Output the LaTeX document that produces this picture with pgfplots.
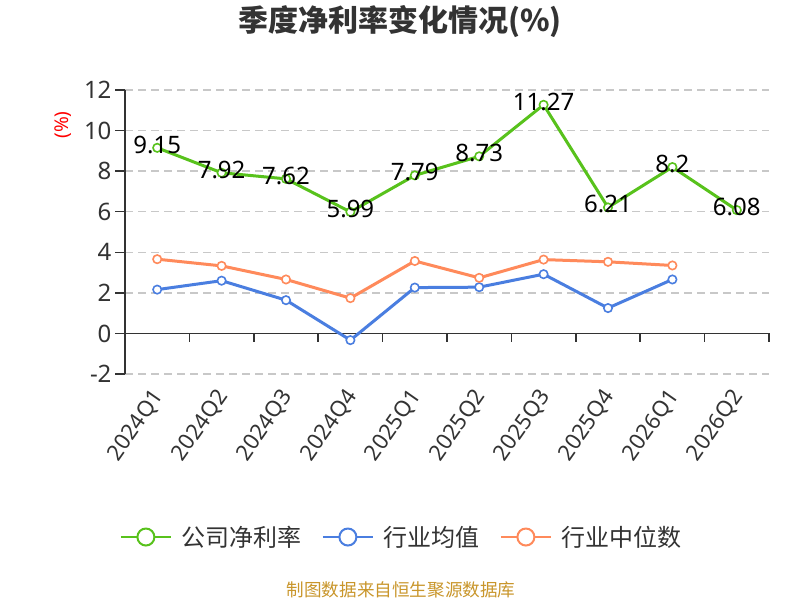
\documentclass[border=0pt]{standalone}
\usepackage{fontspec}
\setmainfont{Noto Sans}
\newfontfamily\cjk{Noto Sans CJK SC}
\usepackage{pgfplots}
\pgfplotsset{compat=1.18}
\definecolor{cgreen}{HTML}{58C21C}
\definecolor{cblue}{HTML}{4A7EE0}
\definecolor{corange}{HTML}{FF8A5B}
\definecolor{c333}{HTML}{333333}
\definecolor{cgrid}{HTML}{C8C8C8}
\definecolor{cfoot}{HTML}{C9962B}
\begin{document}
\begin{tikzpicture}
\useasboundingbox (0pt,0pt) rectangle (800pt,600pt);
\fill[white] (0pt,0pt) rectangle (800pt,600pt);
\node[font=\cjk\bfseries\fontsize{30}{32}\selectfont, text=c333] at (400pt,578pt) {季度净利率变化情况(\%)};
\node[font=\cjk\fontsize{17.6}{20}\selectfont, text=cfoot] at (401pt,10pt) {制图数据来自恒生聚源数据库};
\node[rotate=90, text=red, font=\fontsize{19}{21}\selectfont] at (63pt,475pt) {(\%)};
\begin{axis}[
  at={(125pt,226pt)}, anchor=south west,
  scale only axis, width=644pt, height=284pt,
  xmin=-0.5, xmax=9.5, ymin=-2, ymax=12,
  axis lines*=left,
  x axis line style={draw=none},
  y axis line style={draw=c333, line width=1.5pt},
  xtick={0,...,9},
  xticklabels={2024Q1,2024Q2,2024Q3,2024Q4,2025Q1,2025Q2,2025Q3,2025Q4,2026Q1,2026Q2},
  xtick style={draw=none},
  ytick={-2,0,2,4,6,8,10,12},
  ytick style={draw=c333, line width=1.5pt},
  tick align=outside, major tick length=10pt,
  ymajorgrids,
  grid style={dash pattern=on 8pt off 5pt, draw=cgrid, line width=1.5pt},
  yticklabel style={font=\fontsize{24}{26}\selectfont, text=c333},
  xticklabel style={font=\fontsize{22}{24}\selectfont, text=c333, xshift=4pt, yshift=-6pt, rotate=55, anchor=east},
  /pgf/number format/assume math mode=true,
  clip=false,
  legend columns=3,
  legend image code/.code={
    \draw[line width=2pt] (0pt,0pt) -- (50pt,0pt);
    \draw[line width=2pt, fill=white] (25pt,0pt) circle (8.5pt);
  },
  legend style={draw=none, fill=none, at={(0.430,-0.574)}, anchor=center,
    font=\cjk\fontsize{24}{26}\selectfont, text=c333,
    /tikz/every odd column/.append style={column sep=8pt},
    /tikz/every even column/.append style={column sep=18pt}},
]
\draw[c333, line width=1.5pt] (axis cs:-0.5,0) -- (axis cs:9.5,0);
\pgfplotsinvokeforeach{0.5,1.5,...,9.5}{\draw[c333, line width=1.5pt] (axis cs:#1,0) -- ++(0pt,-9pt);}
\addplot[cgreen, line width=3pt, mark=*, mark size=4.2pt,
  mark options={fill=white, draw=cgreen, line width=1.6pt},
  nodes near coords, point meta=explicit symbolic,
  nodes near coords style={font=\fontsize{24}{26}\selectfont, text=black, anchor=center, yshift=3pt}]
  coordinates {(0,9.15)[9.15] (1,7.92)[7.92] (2,7.62)[7.62] (3,5.99)[5.99] (4,7.79)[7.79]
               (5,8.73)[8.73] (6,11.27)[11.27] (7,6.21)[6.21] (8,8.2)[8.2] (9,6.08)[6.08]};
\addlegendentry{公司净利率}
\addplot[cblue, line width=3pt, mark=*, mark size=4.2pt,
  mark options={fill=white, draw=cblue, line width=1.6pt}]
  coordinates {(0,2.16) (1,2.60) (2,1.64) (3,-0.33) (4,2.26) (5,2.28) (6,2.92) (7,1.25) (8,2.66)};
\addlegendentry{行业均值}
\addplot[corange, line width=3pt, mark=*, mark size=4.2pt,
  mark options={fill=white, draw=corange, line width=1.6pt}]
  coordinates {(0,3.66) (1,3.33) (2,2.66) (3,1.74) (4,3.57) (5,2.74) (6,3.64) (7,3.53) (8,3.35)};
\addlegendentry{行业中位数}
\end{axis}
\end{tikzpicture}
\end{document}
